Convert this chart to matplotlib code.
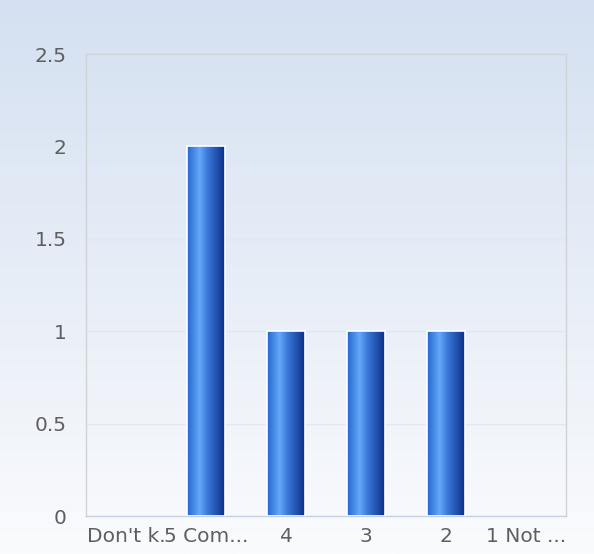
import numpy as np
import matplotlib.pyplot as plt
from matplotlib.colors import LinearSegmentedColormap

categories = ["Don't k.", "5 Com...", "4", "3", "2", "1 Not ..."]
counts = [0, 2, 1, 1, 1, 0]
yticks = [0, 0.5, 1, 1.5, 2, 2.5]
ytick_labels = ['0', '0.5', '1', '1.5', '2', '2.5']

fig = plt.figure(figsize=(5.94, 5.54), dpi=100)

# background gradient over whole figure
bg = fig.add_axes([0, 0, 1, 1], zorder=-10)
bg_cmap = LinearSegmentedColormap.from_list('bg', ['#d4e0f1', '#fafbfd'])
bg.imshow(np.linspace(0, 1, 256).reshape(-1, 1), aspect='auto', cmap=bg_cmap,
          extent=[0, 1, 0, 1])
bg.axis('off')

W, H = 594, 554
left, right, top, bottom = 86, 566, 54, 516
ax = fig.add_axes([left / W, 1 - bottom / H, (right - left) / W, (bottom - top) / H])
ax.patch.set_alpha(0)

x = np.arange(len(categories))
bar_w = 0.475
bar_cmap = LinearSegmentedColormap.from_list(
    'bar', [(0, '#2466d2'), (0.33, '#64a8f8'), (0.55, '#3a78d8'), (1, '#0b2f88')])
grad = np.linspace(0, 1, 128).reshape(1, -1)

bars = ax.bar(x, counts, width=bar_w, color='none', edgecolor='white', linewidth=1.2, zorder=3)
for b, v in zip(bars, counts):
    if v <= 0:
        b.set_visible(False)
        continue
    x0 = b.get_x()
    ax.imshow(grad, aspect='auto', cmap=bar_cmap, zorder=2,
              extent=[x0, x0 + b.get_width(), 0, v], interpolation='bilinear')

ax.set_xlim(-0.5, len(categories) - 0.5)
ax.set_ylim(0, 2.5)
ax.set_yticks(yticks)
ax.set_yticklabels(ytick_labels)
ax.set_xticks(x)
ax.set_xticklabels(categories)
ax.grid(axis='y', color='#e4e8ee', linewidth=1, zorder=0)
ax.set_axisbelow(True)
for s in ax.spines.values():
    s.set_color('#cfd3d8')
    s.set_linewidth(1)
ax.spines['bottom'].set_color('#c6d2e4')
ax.tick_params(axis='both', length=0, labelsize=14.5, colors='#5f5f5f')
ax.tick_params(axis='y', pad=14)
ax.tick_params(axis='x', pad=8)

fig.savefig('out.png', dpi=100)
